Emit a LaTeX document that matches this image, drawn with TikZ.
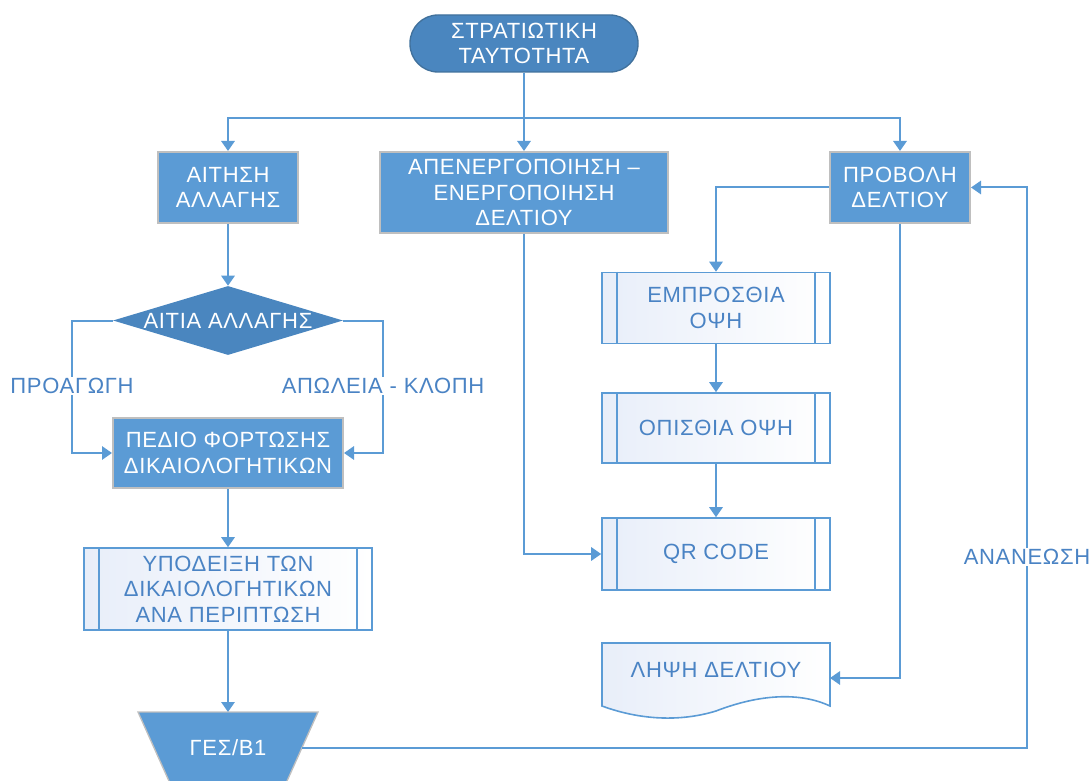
\documentclass[tikz,border=0pt]{standalone}
\usepackage{fontspec}
\setmainfont[LetterSpace=3]{Liberation Sans}
\usetikzlibrary{shapes.geometric,arrows.meta}

\definecolor{lineblue}{HTML}{5B9BD5}
\definecolor{boxblue}{HTML}{5B9BD5}
\definecolor{darkblue}{HTML}{4A86BF}
\definecolor{darkedge}{HTML}{41719C}
\definecolor{greyedge}{HTML}{BFBFBF}
\definecolor{txtblue}{HTML}{4A83C4}
\definecolor{paleblue}{HTML}{E8EEF9}

\begin{document}
\begin{tikzpicture}[x=0.75pt,y=-0.75pt,
  font=\fontsize{16.5}{19}\selectfont,
  procbox/.style={rectangle, fill=boxblue, draw=greyedge, line width=1.5pt,
    text=white, align=center, inner sep=0pt},
  subproc/.style={rectangle, left color=paleblue, right color=white,
    draw=lineblue, line width=1.2pt, text=txtblue, align=center, inner sep=0pt},
  docfill/.style={left color=paleblue, right color=white, draw=lineblue, line width=1.2pt},
  conn/.style={draw=lineblue, line width=1.5pt},
  arr/.style={conn, -{Triangle[length=7.5pt,width=10pt]}},
  lbl/.style={text=txtblue, fill=white, inner sep=1pt}
]
\useasboundingbox (0,0) rectangle (1089,781);
\clip (0,0) rectangle (1089,781);

% start terminator
\node[rectangle, rounded corners=21pt, fill=darkblue, draw=darkedge, line width=1pt,
  minimum width=171pt, minimum height=42.75pt, text=white, align=center]
  (term) at (524,43.5) {ΣΤΡΑΤΙΩΤΙΚΗ\\ΤΑΥΤΟΤΗΤΑ};

% first row of processes
\node[procbox, minimum width=105pt, minimum height=53.25pt] (aitisi) at (228,187.5) {ΑΙΤΗΣΗ\\ΑΛΛΑΓΗΣ};
\node[procbox, minimum width=216pt, minimum height=60.75pt] (apen) at (524,192.5) {ΑΠΕΝΕΡΓΟΠΟΙΗΣΗ –\\ΕΝΕΡΓΟΠΟΙΗΣΗ\\ΔΕΛΤΙΟΥ};
\node[procbox, minimum width=105pt, minimum height=53.25pt] (provoli) at (900,187.5) {ΠΡΟΒΟΛΗ\\ΔΕΛΤΙΟΥ};

% decision
\node[diamond, fill=darkblue, minimum width=172.5pt, minimum height=51.75pt, inner sep=0pt] (diam) at (228,320.5) {};
\node[text=white] at (diam) {ΑΙΤΙΑ ΑΛΛΑΓΗΣ};

% left column
\node[procbox, minimum width=172.5pt, minimum height=52.5pt] (pedio) at (228,453) {ΠΕΔΙΟ ΦΟΡΤΩΣΗΣ\\ΔΙΚΑΙΟΛΟΓΗΤΙΚΩΝ};
\node[subproc, minimum width=216pt, minimum height=61.5pt] (ypo) at (228,589) {ΥΠΟΔΕΙΞΗ ΤΩΝ\\ΔΙΚΑΙΟΛΟΓΗΤΙΚΩΝ\\ΑΝΑ ΠΕΡΙΠΤΩΣΗ};

% manual operation
\path[fill=boxblue, draw=greyedge, line width=1pt] (138,712) -- (318,712) -- (283,790) -- (173,790) -- cycle;
\coordinate (gtop) at (228,712);
\coordinate (gR) at (302,748);
\node[text=white] (ges) at (228,748) {ΓΕΣ/Β1};

% right column
\node[subproc, minimum width=171pt, minimum height=53.25pt] (empr) at (716,308) {ΕΜΠΡΟΣΘΙΑ\\ΟΨΗ};
\node[subproc, minimum width=171pt, minimum height=52.5pt] (opis) at (716,428) {ΟΠΙΣΘΙΑ ΟΨΗ};
\node[subproc, minimum width=171pt, minimum height=54pt] (qr) at (716,554) {QR CODE};

\foreach \n in {ypo,empr,opis,qr} {
  \draw[lineblue, line width=1.2pt]
    ([xshift=12pt]\n.north west) -- ([xshift=12pt]\n.south west)
    ([xshift=-12pt]\n.north east) -- ([xshift=-12pt]\n.south east);
}

% document
\path[docfill] (602,643) -- (830,643) -- (830,706)
  .. controls (800,692) and (760,694) .. (716,711)
  .. controls (680,722) and (640,720) .. (602,706) -- cycle;
\node[text=txtblue] (lipsi) at (716,670) {ΛΗΨΗ ΔΕΛΤΙΟΥ};
\coordinate (lipsiR) at (830,678);

% connectors
\coordinate (j) at (524,118);
\draw[conn] (term.south) -- (j);
\draw[arr] (j) -| (aitisi.north);
\draw[arr] (j) -| (provoli.north);
\draw[arr] (term.south) -- (apen.north);
\draw[arr] (aitisi.south) -- (diam.north);
\draw[arr] (diam.west) -- ++(-41,0) |- (pedio.west);
\draw[arr] (diam.east) -- ++(40,0) |- (pedio.east);
\draw[arr] (pedio.south) -- (ypo.north);
\draw[arr] (ypo.south) -- (gtop);
\draw[arr] (gR) -- (1027,748) |- (provoli.east);
\draw[arr] (provoli.west) -| (empr.north);
\draw[arr] (empr.south) -- (opis.north);
\draw[arr] (opis.south) -- (qr.north);
\draw[arr] (apen.south) |- (qr.west);
\draw[arr] (provoli.south) |- (lipsiR);

% branch labels
\node[lbl] at (72,386) {ΠΡΟΑΓΩΓΗ};
\node[lbl] at (383,386) {ΑΠΩΛΕΙΑ - ΚΛΟΠΗ};
\node[lbl] at (1027,557) {ΑΝΑΝΕΩΣΗ};
\end{tikzpicture}
\end{document}
